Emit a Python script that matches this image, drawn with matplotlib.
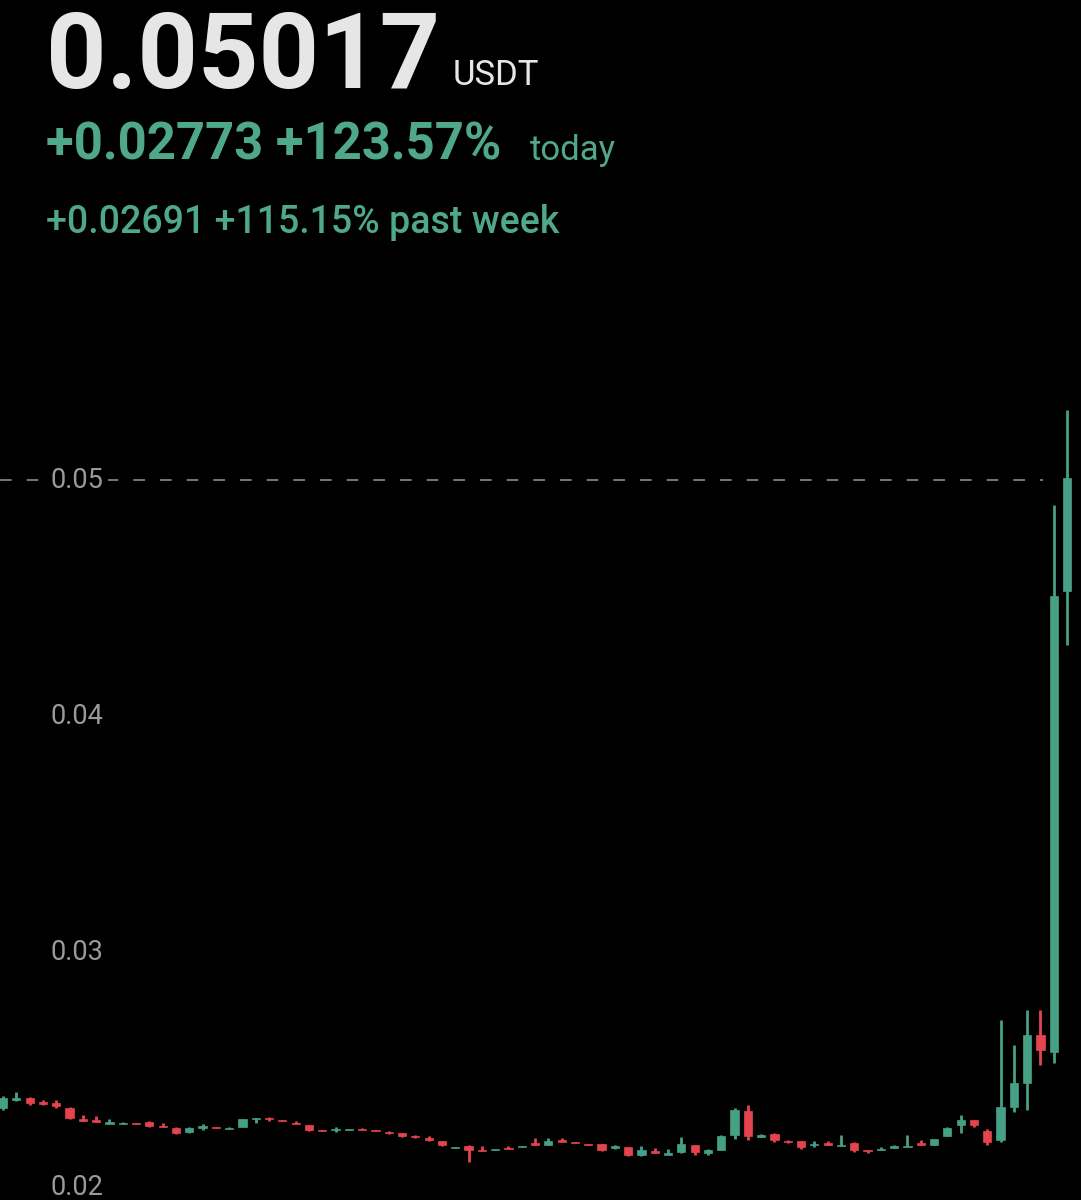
import matplotlib.pyplot as plt
from matplotlib.patches import Rectangle

plt.rcParams['font.family'] = ['Roboto', 'DejaVu Sans']

# candle data (open, close, high, low) in USDT
opens = [0.02339, 0.02373, 0.02382, 0.02365, 0.02360, 0.02339, 0.02293, 0.02288, 0.02271, 0.02271,
         0.02276, 0.02280, 0.02263, 0.02254, 0.02237, 0.02254, 0.02259, 0.02250, 0.02259, 0.02293,
         0.02297, 0.02288, 0.02276, 0.02267, 0.02246, 0.02246, 0.02246, 0.02250, 0.02246, 0.02237,
         0.02233, 0.02220, 0.02212, 0.02199, 0.02170, 0.02178, 0.02161, 0.02161, 0.02170, 0.02174,
         0.02191, 0.02182, 0.02204, 0.02195, 0.02187, 0.02187, 0.02170, 0.02174, 0.02140, 0.02157,
         0.02140, 0.02153, 0.02182, 0.02148, 0.02161, 0.02225, 0.02326, 0.02216, 0.02229, 0.02199,
         0.02199, 0.02182, 0.02191, 0.02178, 0.02191, 0.02161, 0.02161, 0.02170, 0.02174, 0.02191,
         0.02182, 0.02220, 0.02267, 0.02288, 0.02242, 0.02204, 0.02343, 0.02445, 0.02649, 0.02577,
         0.04531]
closes = [0.02382, 0.02382, 0.02360, 0.02356, 0.02348, 0.02297, 0.02284, 0.02280, 0.02280, 0.02276,
          0.02271, 0.02263, 0.02259, 0.02233, 0.02254, 0.02263, 0.02254, 0.02254, 0.02293, 0.02297,
          0.02293, 0.02284, 0.02271, 0.02246, 0.02242, 0.02250, 0.02250, 0.02246, 0.02242, 0.02233,
          0.02220, 0.02216, 0.02204, 0.02182, 0.02174, 0.02161, 0.02157, 0.02165, 0.02165, 0.02178,
          0.02182, 0.02199, 0.02195, 0.02191, 0.02182, 0.02161, 0.02178, 0.02140, 0.02161, 0.02148,
          0.02148, 0.02187, 0.02153, 0.02161, 0.02220, 0.02331, 0.02220, 0.02225, 0.02204, 0.02195,
          0.02174, 0.02187, 0.02182, 0.02182, 0.02161, 0.02157, 0.02165, 0.02178, 0.02178, 0.02182,
          0.02208, 0.02254, 0.02288, 0.02267, 0.02195, 0.02343, 0.02445, 0.02649, 0.02585, 0.04510,
          0.05010]
highs = [0.02390, 0.02407, 0.02386, 0.02373, 0.02373, 0.02343, 0.02310, 0.02305, 0.02293, 0.02280,
         0.02276, 0.02284, 0.02276, 0.02259, 0.02259, 0.02271, 0.02259, 0.02259, 0.02293, 0.02297,
         0.02301, 0.02288, 0.02284, 0.02267, 0.02246, 0.02259, 0.02250, 0.02254, 0.02246, 0.02242,
         0.02233, 0.02225, 0.02220, 0.02199, 0.02174, 0.02182, 0.02178, 0.02165, 0.02178, 0.02178,
         0.02212, 0.02212, 0.02212, 0.02195, 0.02187, 0.02187, 0.02182, 0.02174, 0.02178, 0.02170,
         0.02165, 0.02216, 0.02182, 0.02165, 0.02225, 0.02340, 0.02352, 0.02229, 0.02233, 0.02204,
         0.02199, 0.02199, 0.02199, 0.02225, 0.02195, 0.02161, 0.02174, 0.02182, 0.02225, 0.02204,
         0.02208, 0.02259, 0.02310, 0.02288, 0.02250, 0.02712, 0.02606, 0.02755, 0.02755, 0.04895,
         0.05299]
lows = [0.02330, 0.02369, 0.02352, 0.02352, 0.02339, 0.02293, 0.02284, 0.02280, 0.02271, 0.02271,
        0.02271, 0.02259, 0.02259, 0.02229, 0.02233, 0.02246, 0.02254, 0.02250, 0.02259, 0.02276,
        0.02284, 0.02284, 0.02271, 0.02242, 0.02242, 0.02237, 0.02246, 0.02246, 0.02242, 0.02229,
        0.02216, 0.02212, 0.02199, 0.02178, 0.02170, 0.02110, 0.02157, 0.02161, 0.02165, 0.02174,
        0.02182, 0.02182, 0.02195, 0.02191, 0.02182, 0.02157, 0.02165, 0.02136, 0.02136, 0.02148,
        0.02140, 0.02148, 0.02140, 0.02140, 0.02161, 0.02208, 0.02204, 0.02216, 0.02195, 0.02191,
        0.02165, 0.02174, 0.02182, 0.02178, 0.02153, 0.02148, 0.02161, 0.02170, 0.02174, 0.02182,
        0.02182, 0.02220, 0.02233, 0.02259, 0.02182, 0.02195, 0.02322, 0.02331, 0.02521, 0.02530,
        0.04302]

yticks = [0.02, 0.03, 0.04, 0.05]
last_price = 0.05

up_col = '#46a085'
down_col = '#e5444f'

fig = plt.figure(figsize=(10.81, 12), dpi=100, facecolor='black')
ax = fig.add_axes([0, 0, 1, 1])
ax.set_facecolor('black')
ax.set_xlim(-0.23, 81.05)
ax.set_ylim(0.01949, 0.07037)
ax.axis('off')

w = 0.62
for i, (o, c, h, l) in enumerate(zip(opens, closes, highs, lows)):
    col = up_col if c >= o else down_col
    ax.plot([i, i], [l, h], color=col, lw=2, solid_capstyle='butt', zorder=2)
    bot = min(o, c)
    hgt = max(abs(c - o), 0.00004)
    ax.add_patch(Rectangle((i - w / 2, bot), w, hgt, facecolor=col, edgecolor=col, lw=0.5, zorder=3))

ax.axhline(last_price, xmin=0, xmax=0.965, color='#8a8a8a', lw=1.2, dashes=(7, 9), zorder=1)
for t in yticks:
    ax.text(3.6, t, f'{t:.2f}', color='#9a9a9a', fontsize=19.5, va='center', ha='left',
            bbox=dict(facecolor='black', edgecolor='none', pad=3), zorder=4)

# header
fig.text(0.043, 0.927, '0.05017', color='#e6e6e6', fontsize=76, fontweight='bold', ha='left', va='baseline')
fig.text(0.419, 0.929, 'USDT', color='#e6e6e6', fontsize=25, ha='left', va='baseline')
fig.text(0.043, 0.867, '+0.02773 +123.57%', color='#4fa88a', fontsize=36.5, fontweight='bold', ha='left', va='baseline')
fig.text(0.49, 0.867, 'today', color='#4fa88a', fontsize=25, ha='left', va='baseline')
fig.text(0.043, 0.806, '+0.02691 +115.15% past week', color='#4fa88a', fontsize=27, fontweight='medium',
         ha='left', va='baseline')

fig.savefig('out.png', dpi=100, facecolor='black')
